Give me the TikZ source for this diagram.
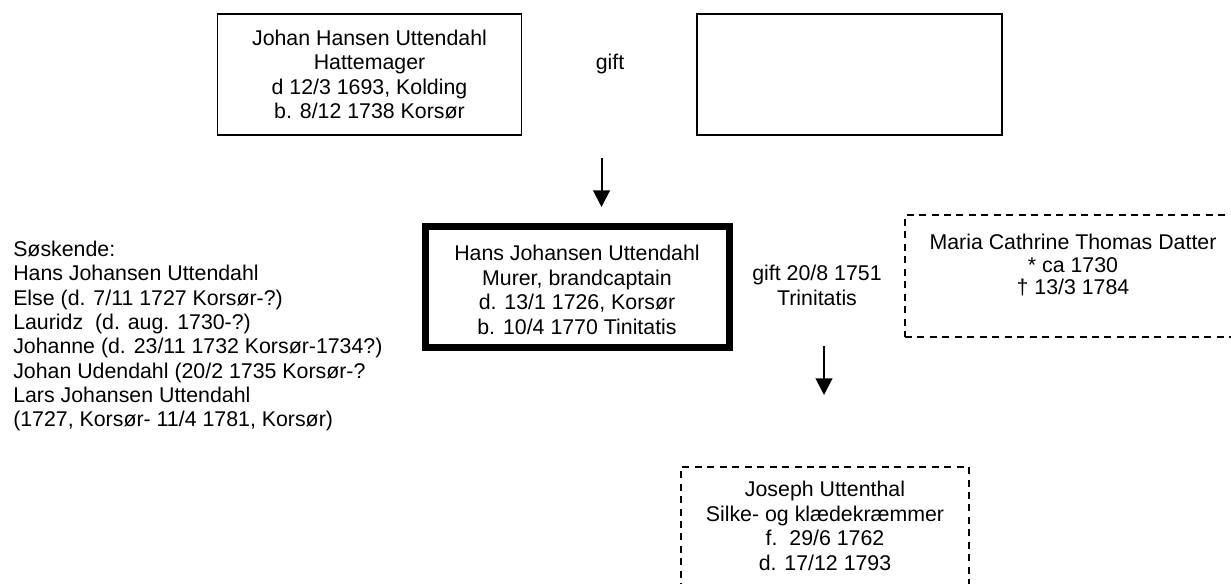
\documentclass[tikz,border=0pt]{standalone}
\usepackage{fontspec}
\setmainfont{Liberation Sans}
\usetikzlibrary{arrows.meta}
\begin{document}
\begin{tikzpicture}[x=0.75pt,y=-0.75pt,
  every node/.style={font=\fontsize{16}{18.4}\selectfont},
  txt/.style={inner sep=0pt, align=center},
  plainbox/.style={draw, line width=1.2pt, inner sep=0pt, align=center},
  thickbox/.style={draw, line width=5.25pt, inner sep=0pt, align=center},
  dashbox/.style={draw, line width=1.3pt, dash pattern=on 5.25pt off 4.1pt, inner sep=0pt, align=center},
  arr/.style={line width=1.5pt, -{Triangle[length=12.5pt,width=12.5pt]}}]
\useasboundingbox (0,0) rectangle (1231,583);
% top row
\node[plainbox, minimum width=228pt, minimum height=90.75pt] (father) at (369.5,74.5)
  {Johan Hansen Uttendahl\\Hattemager\\d 12/3 1693, Kolding\\b. 8/12 1738 Korsør};
\node[plainbox, minimum width=228.75pt, minimum height=90.75pt] (mother) at (849.5,74.5) {};
\node[txt, anchor=base] (gift1) at (610,69) {gift};
% middle row
\node[thickbox, minimum width=228pt, minimum height=90.75pt] (hans) at (577.5,287) {};
\node[txt, font=\fontsize{16}{18.5}\selectfont] (hanstxt) at (577,290)
  {Hans Johansen Uttendahl\\Murer, brandcaptain\\d. 13/1 1726, Korsør\\b. 10/4 1770 Tinitatis};
\node[txt, font=\fontsize{16}{18.5}\selectfont] (gift2) at (817,285.5) {gift 20/8 1751\\Trinitatis};
\node[dashbox, minimum width=252pt, minimum height=91.5pt] (maria) at (1073,276) {};
\node[txt, font=\fontsize{16}{16.9}\selectfont] (mariatxt) at (1073,265)
  {Maria Cathrine Thomas Datter\\* ca 1730\\† 13/3 1784};
% siblings
\node[txt, align=left, anchor=west, font=\fontsize{16}{18.25}\selectfont] (sosk) at (13,336)
  {Søskende:\\Hans Johansen Uttendahl\\Else (d. 7/11 1727 Korsør-?)\\Lauridz\ \ (d. aug. 1730-?)\\Johanne (d. 23/11 1732 Korsør-1734?)\\Johan Udendahl (20/2 1735 Korsør-?\\Lars Johansen Uttendahl\\(1727, Korsør- 11/4 1781, Korsør)};
% child
\node[dashbox, minimum width=216pt, minimum height=88.5pt, font=\fontsize{16}{18.5}\selectfont] (joseph) at (825,526)
  {Joseph Uttenthal\\Silke- og klædekræmmer\\f.\ \ 29/6 1762\\d. 17/12 1793};
% arrows
\coordinate (a1s) at (601.5,158);
\coordinate (a1e) at (601.5,207);
\coordinate (a2s) at (824,346);
\coordinate (a2e) at (824,395);
\draw[arr] (a1s) -- (a1e);
\draw[arr] (a2s) -- (a2e);
\end{tikzpicture}
\end{document}
